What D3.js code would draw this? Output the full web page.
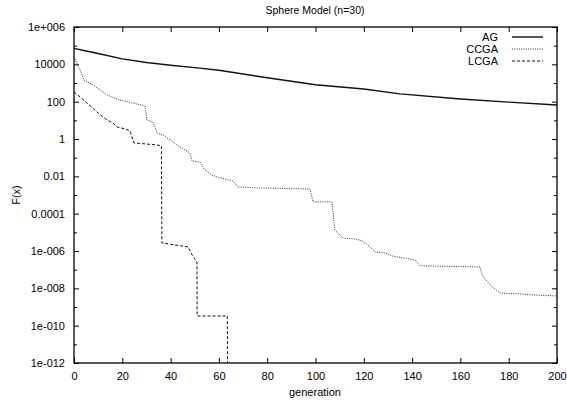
<!DOCTYPE html>
<html>
<head>
<meta charset="utf-8">
<script src="https://cdn.jsdelivr.net/npm/d3@7"></script>
<style>
  body { margin: 0; background: #fff; }
  svg { font-family: "Liberation Sans", Arial, sans-serif; }
</style>
</head>
<body>
<svg id="chart" width="567" height="402"></svg>
<script>
// values
const agGen = [0, 5, 10, 20, 30, 40, 52, 60, 80, 100, 120, 135, 160, 180, 200];
const agVal = [7.2e4, 5.2e4, 3.8e4, 1.95e4, 1.26e4, 8.9e3, 6.3e3, 4.8e3, 1.9e3, 800, 480, 260, 140, 95, 66];

const ccgaGen = [0, 2.5, 4.1, 7.9, 13.7, 19, 24.4, 29.4, 30.2, 32.7, 34.4, 36.9, 39.8, 42.6, 48, 48.9, 52.2, 53.4,
  57.1, 59.2, 65.8, 67.9, 75.8, 97.7, 99, 106.8, 108, 111.4, 116.4, 119.3, 122.6, 124.6, 128.8, 131.7,
  141.2, 143.3, 168.1, 169, 172.3, 176.4, 184.7, 188.8, 200];
const ccgaVal = [2.5e4, 5e3, 1.45e3, 780, 230, 123, 85, 59, 10.5, 8.1, 2.1, 1.6, 0.89, 0.48, 0.18, 0.066, 0.059, 0.028,
  0.0117, 0.0093, 0.0056, 0.0027, 0.0024, 0.0021, 4.3e-4, 4.3e-4, 1.35e-5, 5e-6, 4.4e-6, 3.5e-6, 1.66e-6, 8.9e-7, 7.9e-7, 5.4e-7,
  3.3e-7, 1.6e-7, 1.4e-7, 5.2e-8, 1.5e-8, 5.6e-9, 5e-9, 4.5e-9, 3.9e-9];

const lcgaGen = [0, 2.5, 5.8, 8.7, 10.8, 13.7, 16.1, 17.8, 21.1, 23.2, 24, 24.8, 34.4, 36.2, 36.4, 47.2, 48.9, 50.9, 51, 63.5, 63.6];
const lcgaVal = [330, 180, 76, 35, 19.5, 10.5, 7.2, 4.4, 3.5, 2.7, 1.3, 0.62, 0.48, 0.43, 2.7e-6, 1.66e-6, 6.2e-7, 2.6e-7, 3.3e-10, 3.3e-10, 1e-13];

const seriesNames = ['AG', 'CCGA', 'LCGA'];
const yTicks = [1e6, 1e4, 1e2, 1, 1e-2, 1e-4, 1e-6, 1e-8, 1e-10, 1e-12];
const yTickLabels = ['1e+006', '10000', '100', '1', '0.01', '0.0001', '1e-006', '1e-008', '1e-010', '1e-012'];
const yMinor = [1e5, 1e3, 10, 0.1, 1e-3, 1e-5, 1e-7, 1e-9, 1e-11];
const xTicks = [0, 20, 40, 60, 80, 100, 120, 140, 160, 180, 200];

const svg = d3.select('#chart');
const margin = { left: 74, right: 557, top: 27, bottom: 363 };

const x = d3.scaleLinear().domain([0, 200]).range([margin.left, margin.right]);
const y = d3.scaleLog().domain([1e-12, 1e6]).range([margin.bottom, margin.top]);

svg.append('defs').append('clipPath').attr('id', 'clip')
  .append('rect')
  .attr('x', margin.left).attr('y', margin.top)
  .attr('width', margin.right - margin.left).attr('height', margin.bottom - margin.top);

// axes, ticks pointing inward like gnuplot
function styleAxis(g) {
  g.select('.domain').remove();
  g.selectAll('.tick line').attr('stroke', '#000').attr('stroke-width', 1);
  g.selectAll('.tick text').attr('fill', '#000').style('font-size', '11px');
}

svg.append('g')
  .attr('transform', 'translate(0,' + margin.bottom + ')')
  .call(d3.axisBottom(x).tickValues(xTicks).tickSizeInner(-5).tickSizeOuter(0).tickPadding(9))
  .call(styleAxis);

svg.append('g')
  .attr('transform', 'translate(0,' + margin.top + ')')
  .call(d3.axisTop(x).tickValues(xTicks).tickSizeInner(-5).tickSizeOuter(0).tickFormat(''))
  .call(styleAxis);

svg.append('g')
  .attr('transform', 'translate(' + margin.left + ',0)')
  .call(d3.axisLeft(y).tickValues(yTicks).tickSizeInner(-5).tickSizeOuter(0).tickPadding(9)
    .tickFormat((d, i) => yTickLabels[i]))
  .call(styleAxis);

svg.append('g')
  .attr('transform', 'translate(' + margin.left + ',0)')
  .call(d3.axisLeft(y).tickValues(yMinor).tickSizeInner(-3).tickSizeOuter(0).tickFormat(''))
  .call(styleAxis);

svg.append('g')
  .attr('transform', 'translate(' + margin.right + ',0)')
  .call(d3.axisRight(y).tickValues(yTicks).tickSizeInner(-5).tickSizeOuter(0).tickFormat(''))
  .call(styleAxis);

svg.append('g')
  .attr('transform', 'translate(' + margin.right + ',0)')
  .call(d3.axisRight(y).tickValues(yMinor).tickSizeInner(-3).tickSizeOuter(0).tickFormat(''))
  .call(styleAxis);

svg.append('rect')
  .attr('x', margin.left).attr('y', margin.top)
  .attr('width', margin.right - margin.left).attr('height', margin.bottom - margin.top)
  .attr('fill', 'none').attr('stroke', '#000').attr('stroke-width', 1.3);

// series
const line = d3.line().x((d) => x(d[0])).y((d) => y(d[1]));
const styles = [
  { stroke: '#111', width: 1.4, dash: null },
  { stroke: '#333', width: 1, dash: '1,1.3' },
  { stroke: '#111', width: 1, dash: '3,2' },
];
const series = [
  d3.zip(agGen, agVal),
  d3.zip(ccgaGen, ccgaVal),
  d3.zip(lcgaGen, lcgaVal),
];

const plot = svg.append('g').attr('clip-path', 'url(#clip)');
series.forEach((s, i) => {
  plot.append('path')
    .datum(s)
    .attr('d', line)
    .attr('fill', 'none')
    .attr('stroke', styles[i].stroke)
    .attr('stroke-width', styles[i].width)
    .attr('stroke-dasharray', styles[i].dash);
});

// legend
seriesNames.forEach((name, i) => {
  const ly = 37 + i * 12;
  svg.append('text')
    .attr('x', 498).attr('y', ly + 4)
    .attr('text-anchor', 'end')
    .style('font-size', '11px')
    .text(name);
  svg.append('line')
    .attr('x1', 512).attr('x2', 543)
    .attr('y1', ly).attr('y2', ly)
    .attr('stroke', styles[i].stroke)
    .attr('stroke-width', styles[i].width)
    .attr('stroke-dasharray', styles[i].dash);
});

// titles
svg.append('text')
  .attr('x', 315).attr('y', 14)
  .attr('text-anchor', 'middle')
  .style('font-size', '10.5px')
  .text('Sphere Model (n=30)');

svg.append('text')
  .attr('x', 315).attr('y', 396)
  .attr('text-anchor', 'middle')
  .style('font-size', '11px')
  .text('generation');

svg.append('text')
  .attr('transform', 'translate(20,195) rotate(-90)')
  .attr('text-anchor', 'middle')
  .style('font-size', '11px')
  .text('F(x)');
</script>
</body>
</html>
